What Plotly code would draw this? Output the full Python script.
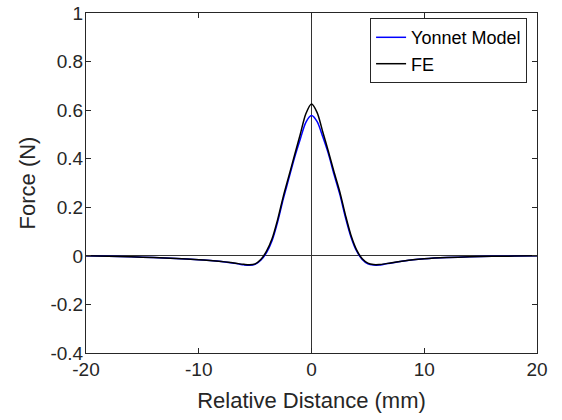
import plotly.graph_objects as go

distance_mm = [-20, -18, -16, -14, -12, -10, -9, -8, -7, -6.5, -6, -5.5, -5, -4.5, -4,
               -3.5, -3, -2.5, -2, -1.5, -1, -0.5, 0, 0.5, 1, 1.5, 2, 2.5, 3, 3.5, 4,
               4.5, 5, 5.5, 6, 6.5, 7, 8, 9, 10, 12, 14, 16, 18, 20]

yonnet_force = [0.0, -0.002, -0.004, -0.007, -0.011, -0.016, -0.019, -0.023, -0.029, -0.033,
                -0.037, -0.039, -0.035, -0.018, 0.012, 0.062, 0.14, 0.235, 0.32, 0.405,
                0.48, 0.55, 0.578, 0.553, 0.49, 0.42, 0.335, 0.255, 0.16, 0.078, 0.02,
                -0.015, -0.033, -0.038, -0.038, -0.034, -0.030, -0.022, -0.016, -0.012,
                -0.007, -0.004, -0.002, -0.001, 0.0]

fe_force = [0.0, -0.002, -0.004, -0.007, -0.011, -0.016, -0.019, -0.023, -0.028, -0.032,
            -0.035, -0.037, -0.033, -0.015, 0.018, 0.07, 0.15, 0.245, 0.33, 0.415,
            0.50, 0.585, 0.625, 0.59, 0.51, 0.43, 0.345, 0.265, 0.17, 0.085, 0.025,
            -0.012, -0.03, -0.036, -0.036, -0.033, -0.029, -0.022, -0.016, -0.012,
            -0.007, -0.004, -0.002, -0.001, 0.0]

x_ticks = [-20, -10, 0, 10, 20]
x_tick_labels = ["-20", "-10", "0", "10", "20"]
y_ticks = [-0.4, -0.2, 0, 0.2, 0.4, 0.6, 0.8, 1]
y_tick_labels = ["-0.4", "-0.2", "0", "0.2", "0.4", "0.6", "0.8", "1"]

FONT = "Liberation Sans, Arial, sans-serif"
AX = "#262626"

fig = go.Figure()
fig.add_trace(go.Scatter(x=distance_mm, y=yonnet_force, mode="lines", name="Yonnet Model",
                         line=dict(color="#0000ff", width=1.5, shape="spline", smoothing=0.8)))
fig.add_trace(go.Scatter(x=distance_mm, y=fe_force, mode="lines", name="FE",
                         line=dict(color="#000000", width=1.5, shape="spline", smoothing=0.8)))

axis_common = dict(showgrid=False, showline=True, linecolor=AX, linewidth=1,
                   mirror="ticks", ticks="inside", ticklen=5, tickcolor=AX,
                   zeroline=True, zerolinecolor="#333333", zerolinewidth=1,
                   automargin=False, ticklabeloverflow="allow",
                   tickfont=dict(family=FONT, size=19, color=AX))

fig.update_xaxes(range=[-20, 20], tickvals=x_ticks, ticktext=x_tick_labels, ticklabelstandoff=-1,
                 title=dict(text="Relative Distance (mm)", font=dict(family=FONT, size=22, color=AX),
                            standoff=13),
                 **axis_common)
fig.update_yaxes(range=[-0.4, 1], tickvals=y_ticks, ticktext=y_tick_labels, ticklabelstandoff=-2,
                 title=dict(text="Force (N)", font=dict(family=FONT, size=22, color=AX),
                            standoff=8),
                 **axis_common)

fig.update_layout(
    width=562, height=420,
    margin=dict(l=86, r=25, t=13, b=67),
    paper_bgcolor="white", plot_bgcolor="white",
    font=dict(family=FONT, color=AX),
    legend=dict(x=0.978, y=0.985, xanchor="right", yanchor="top",
                bgcolor="white", bordercolor=AX, borderwidth=1,
                font=dict(family=FONT, size=18, color="#000000"),
                tracegroupgap=0, itemwidth=30),
    showlegend=True,
)

fig.write_html("out.html", config={"displayModeBar": False},
               post_script="document.body.style.margin='0';")
